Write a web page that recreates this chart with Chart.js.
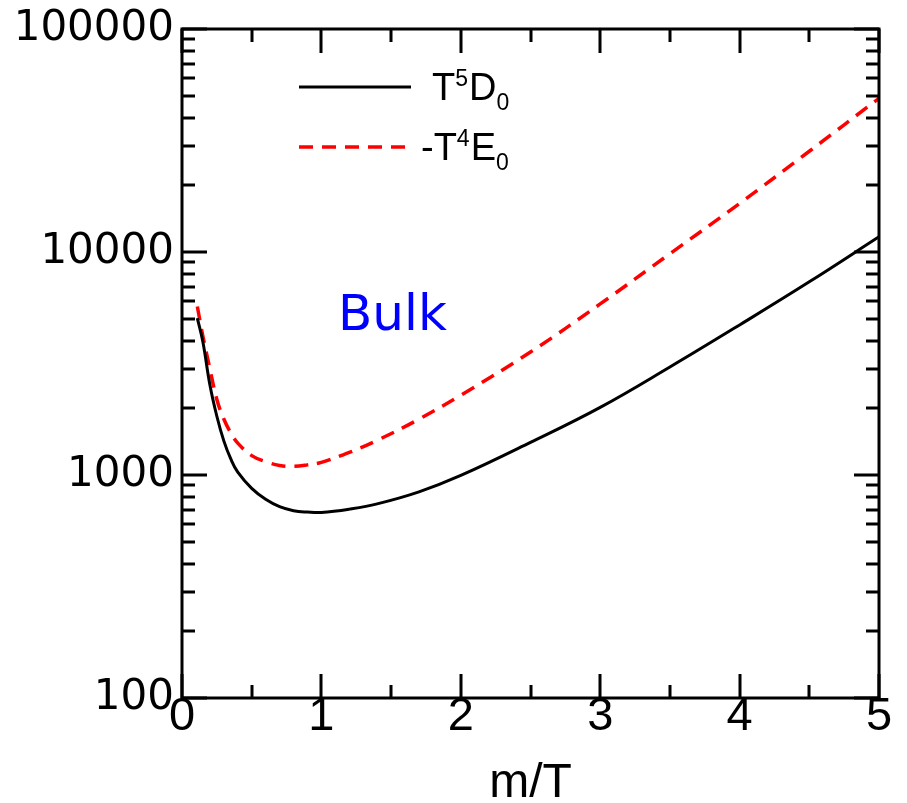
<!DOCTYPE html>
<html>
<head>
<meta charset="utf-8">
<title>Bulk</title>
<script src="https://cdn.jsdelivr.net/npm/chart.js@4.4.1/dist/chart.umd.min.js"></script>
<style>
  html, body { margin: 0; padding: 0; background: #fff; }
  canvas { display: block; }
</style>
</head>
<body>
<canvas id="chart" width="907" height="803"></canvas>
<script>
// m/T values where the curves were read
const massOverT = [0.11, 0.15, 0.2, 0.25, 0.3, 0.35, 0.4, 0.5, 0.6, 0.7, 0.8, 0.9, 1.0, 1.2, 1.4, 1.7, 2.0, 2.5, 3.0, 3.5, 4.0, 4.5, 5.0];
// T^5 D_0 (solid black)
const t5D0 = [5050, 3945, 2540, 1834, 1422, 1180, 1030, 871, 778, 721, 692, 682, 679, 703, 742, 840, 995, 1400, 2010, 3050, 4710, 7350, 11700];
// -T^4 E_0 (dashed red)
const t4E0 = [5700, 4190, 3000, 2180, 1782, 1545, 1390, 1222, 1148, 1104, 1093, 1110, 1140, 1262, 1430, 1780, 2280, 3560, 5850, 9820, 16500, 28300, 48900];

const xTicks = [0, 1, 2, 3, 4, 5];
const yDecades = [100, 1000, 10000, 100000];

const toPoints = (xs, ys) => xs.map((x, i) => ({ x, y: ys[i] }));

// frame, inward ticks on all four sides, legend and label
const decorations = {
    id: 'decorations',
    afterDraw(chart) {
        const { ctx, chartArea: a, scales } = chart;
        const x = scales.x, y = scales.y;
        ctx.save();
        ctx.strokeStyle = '#000';
        ctx.lineWidth = 3;
        ctx.lineCap = 'butt';

        ctx.beginPath();
        for (let v = 0; v <= 5.0001; v += 0.5) {
            const px = Math.round(x.getPixelForValue(v));
            const len = Math.abs(v - Math.round(v)) < 1e-6 ? 24 : 13;
            ctx.moveTo(px, a.bottom); ctx.lineTo(px, a.bottom - len);
            ctx.moveTo(px, a.top); ctx.lineTo(px, a.top + len);
        }
        for (let e = 2; e <= 5; e++) {
            for (let m = 1; m <= 9; m++) {
                const v = m * Math.pow(10, e);
                if (v > 100000) break;
                const py = Math.round(y.getPixelForValue(v));
                const len = m === 1 ? 25 : 13;
                ctx.moveTo(a.left, py); ctx.lineTo(a.left + len, py);
                ctx.moveTo(a.right, py); ctx.lineTo(a.right - len, py);
            }
        }
        ctx.stroke();
        ctx.strokeRect(a.left, a.top, a.right - a.left, a.bottom - a.top);

        // legend
        const entries = [
            { ds: chart.data.datasets[0], y: 87, parts: [['T', 0], ['5', 1], ['D', 0], ['0', -1]], x: 432 },
            { ds: chart.data.datasets[1], y: 147, parts: [['-T', 0], ['4', 1], ['E', 0], ['0', -1]], x: 421 }
        ];
        const big = "38px 'Liberation Sans Narrow', 'Liberation Sans', Arial, sans-serif";
        const small = "23px 'Liberation Sans Narrow', 'Liberation Sans', Arial, sans-serif";
        entries.forEach((en) => {
            ctx.beginPath();
            ctx.strokeStyle = en.ds.borderColor;
            ctx.lineWidth = en.ds.borderWidth;
            ctx.setLineDash(en.ds.borderDash || []);
            ctx.moveTo(299, en.y);
            ctx.lineTo(411, en.y);
            ctx.stroke();
            ctx.setLineDash([]);

            ctx.fillStyle = '#000';
            ctx.textBaseline = 'alphabetic';
            ctx.textAlign = 'left';
            let cx = en.x;
            const base = en.y + 13;
            en.parts.forEach(([txt, shift]) => {
                ctx.font = shift === 0 ? big : small;
                const by = shift === 0 ? base : (shift > 0 ? base - 14 : base + 10);
                ctx.fillText(txt, cx, by);
                cx += ctx.measureText(txt).width + (shift === 0 ? 0 : 1);
            });
        });

        ctx.fillStyle = '#0000ff';
        ctx.font = "50px 'DejaVu Sans', sans-serif";
        ctx.textAlign = 'left';
        ctx.textBaseline = 'alphabetic';
        ctx.fillText('Bulk', 338, 330);
        ctx.restore();
    }
};

new Chart(document.getElementById('chart'), {
    type: 'line',
    data: {
        datasets: [
            {
                label: 'T5D0',
                data: toPoints(massOverT, t5D0),
                borderColor: '#000000',
                borderWidth: 3,
                pointRadius: 0,
                tension: 0.4,
                fill: false
            },
            {
                label: '-T4E0',
                data: toPoints(massOverT, t4E0),
                borderColor: '#ff0000',
                borderWidth: 3.5,
                borderDash: [14, 9],
                pointRadius: 0,
                tension: 0.4,
                fill: false
            }
        ]
    },
    options: {
        responsive: false,
        animation: false,
        layout: { padding: { left: 0, right: 28, top: 28, bottom: 0 } },
        plugins: { legend: { display: false }, tooltip: { enabled: false } },
        scales: {
            x: {
                type: 'linear',
                min: 0,
                max: 5,
                afterBuildTicks: (scale) => { scale.ticks = xTicks.map((v) => ({ value: v })); },
                afterFit: (scale) => { scale.height = 105; },
                grid: { display: false, drawTicks: false },
                border: { display: false },
                ticks: {
                    color: '#000',
                    padding: -4,
                    maxRotation: 0,
                    font: { family: "'Liberation Sans', Arial, sans-serif", size: 47, lineHeight: 1 },
                    callback: (v) => String(v)
                },
                title: {
                    display: true,
                    text: 'm/T',
                    color: '#000',
                    padding: { top: 0, bottom: -5 },
                    font: { family: "'Liberation Sans', Arial, sans-serif", size: 48, lineHeight: 1 }
                }
            },
            y: {
                type: 'logarithmic',
                min: 100,
                max: 100000,
                afterBuildTicks: (scale) => { scale.ticks = yDecades.map((v) => ({ value: v })); },
                afterFit: (scale) => { scale.width = 182; },
                grid: { display: false, drawTicks: false },
                border: { display: false },
                ticks: {
                    color: '#000',
                    padding: 8,
                    autoSkip: false,
                    font: { family: "'DejaVu Sans', sans-serif", size: 42, lineHeight: 1 },
                    callback: (v) => String(v)
                }
            }
        }
    },
    plugins: [decorations]
});
</script>
</body>
</html>
